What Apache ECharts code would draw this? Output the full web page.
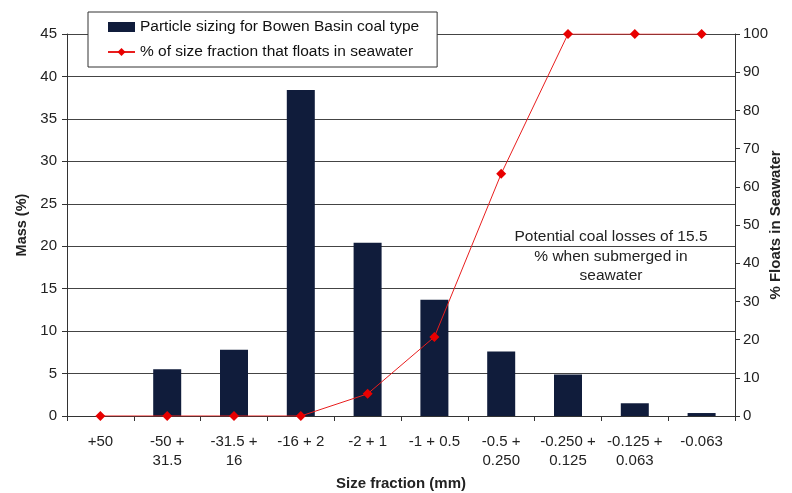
<!DOCTYPE html>
<html><head><meta charset="utf-8">
<script src="https://cdn.jsdelivr.net/npm/echarts@6/dist/echarts.min.js"></script>
<style>html,body{margin:0;padding:0;background:#fff}#c{width:792px;height:493px}</style>
</head><body><div id="c"></div>
<script>
const categories = ['+50','-50 +\n31.5','-31.5 +\n16','-16 + 2','-2 + 1','-1 + 0.5','-0.5 +\n0.250','-0.250 +\n0.125','-0.125 +\n0.063','-0.063'];
const massValues = [0, 5.5, 7.8, 38.4, 20.4, 13.7, 7.6, 4.9, 1.5, 0.35];
const floatValues = [0, 0, 0, 0, 5.8, 20.7, 63.4, 100, 100, 100];
const barName = 'Particle sizing for Bowen Basin coal type';
const lineName = '% of size fraction that floats in seawater';
const font = 'Liberation Sans, Arial, sans-serif';
const chart = echarts.init(document.getElementById('c'), null, {renderer:'canvas'});
chart.setOption({
  animation:false,
  textStyle:{fontFamily:font},
  grid:{left:67,right:57,top:34,bottom:77,containLabel:false,outerBoundsMode:'none'},
  legend:{
    left:88, top:12, orient:'vertical', itemGap:9, itemWidth:27, itemHeight:10,
    backgroundColor:'#fff', borderColor:'#333', borderWidth:1, borderRadius:0,
    padding:[7,18,7,19],
    textStyle:{fontSize:15.5,color:'#111',fontFamily:font},
    data:[{name:barName,icon:'rect'},{name:lineName}]
  },
  xAxis:{
    type:'category', data:categories,
    name:'Size fraction (mm)', nameLocation:'middle', nameGap:60,
    nameTextStyle:{fontSize:15,fontWeight:'bold',color:'#222'},
    axisLine:{lineStyle:{color:'#333',width:1}},
    axisTick:{show:true,alignWithLabel:false,length:5,lineStyle:{color:'#333'}},
    axisLabel:{fontSize:15,color:'#222',lineHeight:19,margin:16,interval:0}
  },
  yAxis:[{
    type:'value', min:0, max:45, interval:5, position:'left',
    name:'Mass (%)', nameLocation:'middle', nameGap:38, nameRotate:90, nameMoveOverlap:false,
    nameTextStyle:{fontSize:14.5,fontWeight:'bold',color:'#222'},
    axisLine:{show:true,lineStyle:{color:'#333',width:1}},
    axisTick:{show:true,length:5,lineStyle:{color:'#333'}},
    axisLabel:{fontSize:15,color:'#222',margin:10},
    splitLine:{show:true,lineStyle:{color:'#444',width:1}}
  },{
    type:'value', min:0, max:100, interval:10, position:'right',
    name:'% Floats in Seawater', nameLocation:'middle', nameGap:33, nameRotate:90, nameMoveOverlap:false,
    nameTextStyle:{fontSize:15,fontWeight:'bold',color:'#222'},
    axisLine:{show:true,lineStyle:{color:'#333',width:1}},
    axisTick:{show:true,length:5,lineStyle:{color:'#333'}},
    axisLabel:{fontSize:15,color:'#222',margin:8},
    splitLine:{show:false}
  }],
  series:[{
    name:barName, type:'bar', data:massValues, barWidth:28, yAxisIndex:0,
    itemStyle:{color:'#101c3b'}
  },{
    name:lineName, type:'line', data:floatValues, yAxisIndex:1,
    symbol:'diamond', symbolSize:10, showSymbol:true,
    lineStyle:{color:'#e81e1e',width:1}, itemStyle:{color:'#e80000'}, z:5
  }],
  graphic:[{
    type:'text', x:611, y:227,
    style:{text:'Potential coal losses of 15.5\n% when submerged in\nseawater', align:'center',
      fontSize:15.5, lineHeight:19.5, fill:'#222', fontFamily:font}
  }]
});
</script></body></html>
